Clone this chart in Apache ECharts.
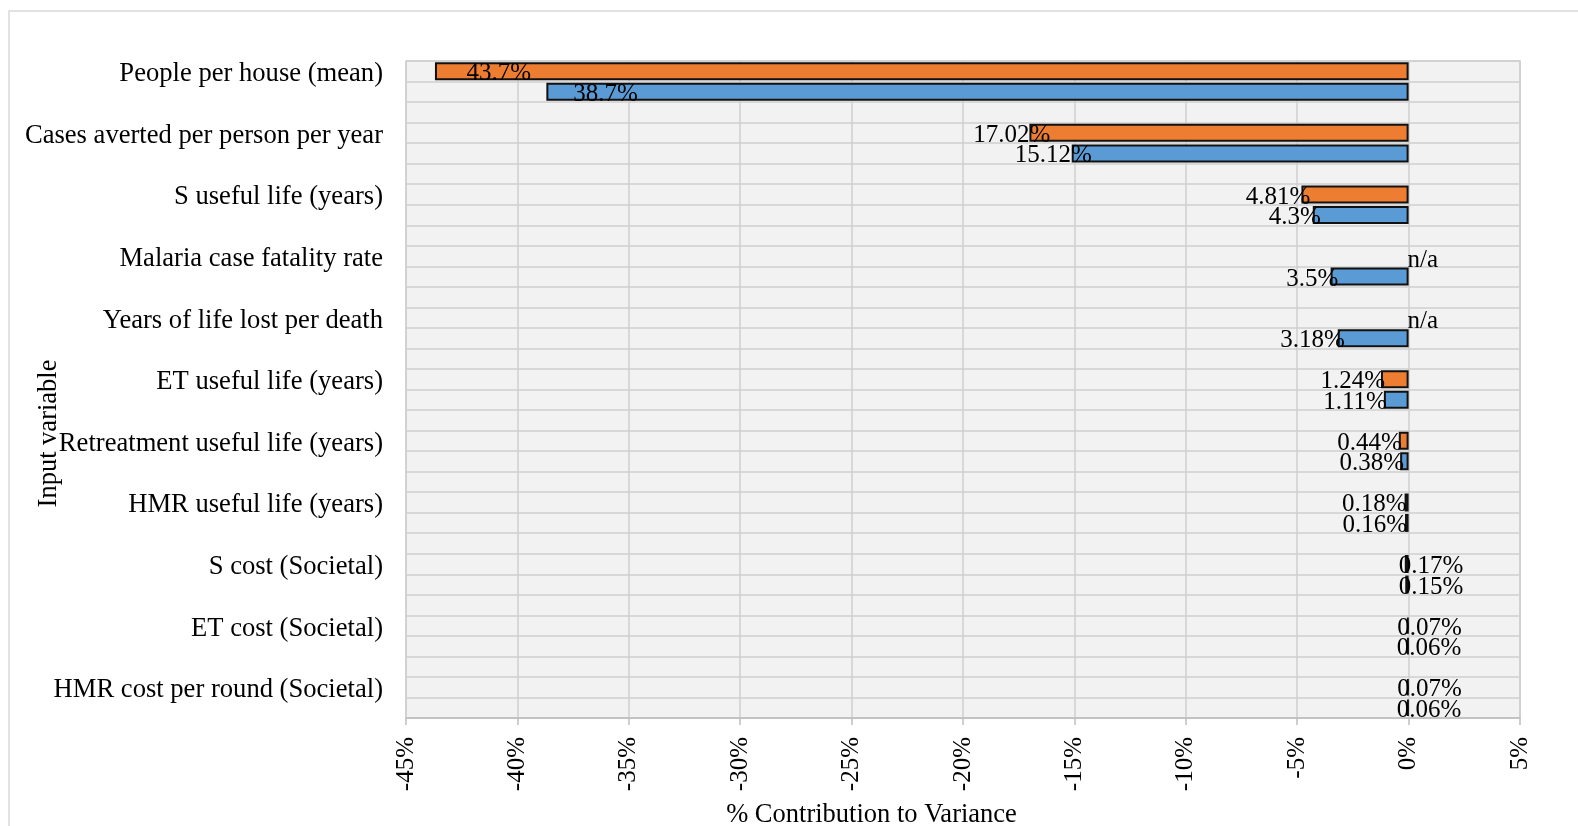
<!DOCTYPE html>
<html><head><meta charset="utf-8">
<script src="https://cdn.jsdelivr.net/npm/echarts@6/dist/echarts.min.js"></script>
<style>html,body{margin:0;padding:0;background:#fff}#c{width:1578px;height:826px}</style>
</head><body><div id="c"></div>
<script>
// ---- data ----
const categories = [
  'People per house (mean)',
  'Cases averted per person per year',
  'S useful life (years)',
  'Malaria case fatality rate',
  'Years of life lost per death',
  'ET useful life (years)',
  'Retreatment useful life (years)',
  'HMR useful life (years)',
  'S cost (Societal)',
  'ET cost (Societal)',
  'HMR cost per round (Societal)'
];
const orangeValues = [43.7, 17.02, 4.81, null, null, 1.24, 0.44, 0.18, 0.17, 0.07, 0.07]; // null = n/a
const blueValues   = [38.7, 15.12, 4.3, 3.5, 3.18, 1.11, 0.38, 0.16, 0.15, 0.06, 0.06];
const xAxisTitle = '% Contribution to Variance';
const yAxisTitle = 'Input variable';

// ---- label placement (styling, px to the right of the bar end) ----
const orangeLabelShift = [96, 21, 9, 29.5, 29.5, 4, 3, 2, 58.5, 55, 55];
const blueLabelShift   = [91.5, 20, 8, 7.6, 7, 3, 4, 2, 58, 54.5, 54.5];

const ROWS = categories.length * 3 - 1;
const rowKeys = [];
for (let r = 0; r < ROWS; r++) rowKeys.push('row' + r);

function buildRows(values, shifts, rowOffset) {
  const arr = new Array(ROWS).fill(null);
  values.forEach((v, i) => {
    const row = i * 3 + rowOffset;
    if (v === null) {
      arr[row] = { value: 0, na: true, itemStyle: { borderWidth: 0, color: 'rgba(0,0,0,0)' }, label: { offset: [shifts[i], 4] } };
    } else {
      arr[row] = { value: -v, label: { offset: [shifts[i], 2.5] } };
    }
  });
  return arr;
}

const FONT = '"Liberation Serif", "Times New Roman", serif';
const labelCfg = {
  show: true,
  position: 'left',
  distance: 0,
  color: '#000',
  fontFamily: FONT,
  fontSize: 25,
  formatter: p => p.data && p.data.na ? 'n/a' : (-p.value) + '%'
};

const chart = echarts.init(document.getElementById('c'), null, { renderer: 'canvas' });
chart.setOption({
  animation: false,
  backgroundColor: '#fff',
  graphic: [{
    type: 'rect', silent: true, z: -10,
    shape: { x: 9, y: 11, width: 1700, height: 1000 },
    style: { fill: 'none', stroke: '#d9d9d9', lineWidth: 1.5 }
  }],
  grid: {
    left: 406, top: 61, width: 1114, height: 657,
    show: true, backgroundColor: '#f2f2f2', borderColor: '#d0d0d0', borderWidth: 1.5,
    containLabel: false, outerBoundsMode: 'none'
  },
  xAxis: {
    type: 'value', min: -45, max: 5, interval: 5,
    name: xAxisTitle, nameLocation: 'middle', nameGap: 84, nameMoveOverlap: false,
    nameTextStyle: { fontFamily: FONT, fontSize: 26.5, color: '#000', padding: [0, 183, 0, 0] },
    axisLine: { show: true, lineStyle: { color: '#bfbfbf', width: 1.5 } },
    axisTick: { show: true, length: 7, lineStyle: { color: '#bfbfbf', width: 1.5 } },
    axisLabel: { rotate: 90, margin: 19, fontFamily: FONT, fontSize: 25, color: '#000', formatter: v => v + '%' },
    splitLine: { show: true, lineStyle: { color: '#cfcfcf', width: 1.5 } }
  },
  yAxis: {
    type: 'category', data: rowKeys, inverse: true,
    name: yAxisTitle, nameLocation: 'middle', nameGap: 343, nameRotate: 90, nameMoveOverlap: false,
    nameTextStyle: { fontFamily: FONT, fontSize: 26.5, color: '#000', padding: [0, 88, 0, 0] },
    axisLine: { show: false },
    axisTick: { show: false },
    axisLabel: {
      interval: 0, margin: 23, fontFamily: FONT, fontSize: 26.6, color: '#000',
      formatter: (v, i) => (i % 3 === 0 ? '{c|' + categories[i / 3] + '}' : ''),
      rich: { c: { fontFamily: FONT, fontSize: 26.6, color: '#000', padding: [6, 0, 0, 0] } }
    },
    splitLine: { show: true, interval: 0, lineStyle: { color: '#cfcfcf', width: 1.5 } }
  },
  series: [
    {
      name: 'Series 1', type: 'bar', barWidth: 18, barGap: '-100%',
      data: buildRows(orangeValues, orangeLabelShift, 0),
      itemStyle: { color: '#ED7D31', borderColor: '#111', borderWidth: 2 },
      label: labelCfg
    },
    {
      name: 'Series 2', type: 'bar', barWidth: 18, barGap: '-100%',
      data: buildRows(blueValues, blueLabelShift, 1),
      itemStyle: { color: '#5B9BD5', borderColor: '#111', borderWidth: 2 },
      label: labelCfg
    }
  ]
});
</script></body></html>
